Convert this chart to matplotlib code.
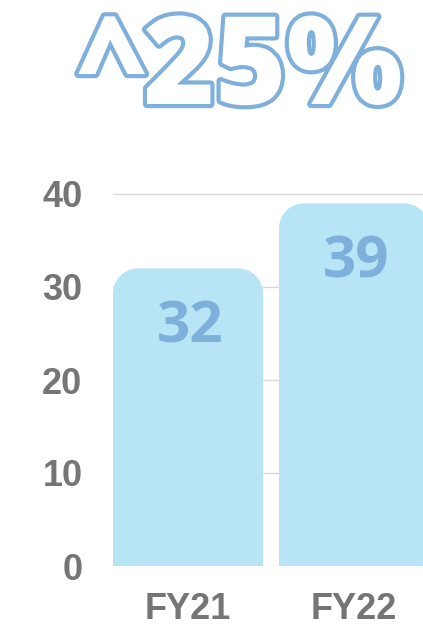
import matplotlib.pyplot as plt
import matplotlib.patheffects as pe
from matplotlib.path import Path
from matplotlib.patches import PathPatch

# data
years = ['FY21', 'FY22']
values = [32, 39]
headline = '^25%'
yticks = [0, 10, 20, 30, 40]

bar_color = '#b8e5f5'
blue = '#7fb0dc'
grey = '#757575'

fig = plt.figure(figsize=(4.23, 6.31), dpi=100)
ax = fig.add_axes([113 / 423, 1 - 566 / 631, 1 - 113 / 423, (566 - 184.7) / 631])

x = list(range(len(years)))
bars = ax.bar(x, values, width=0.904, color=bar_color)
ax.set_xlim(-0.452, 1.416)
ax.set_ylim(0, 41)


def rounded_top(x0, w, h, rx, ry):
    # rectangle with rounded top corners (bezier quarter arcs)
    k = 0.5523
    verts = [(x0, 0), (x0, h - ry),
             (x0, h - ry + k * ry), (x0 + rx - k * rx, h), (x0 + rx, h),
             (x0 + w - rx, h),
             (x0 + w - rx + k * rx, h), (x0 + w, h - ry + k * ry), (x0 + w, h - ry),
             (x0 + w, 0), (x0, 0)]
    codes = [Path.MOVETO, Path.LINETO,
             Path.CURVE4, Path.CURVE4, Path.CURVE4,
             Path.LINETO,
             Path.CURVE4, Path.CURVE4, Path.CURVE4,
             Path.LINETO, Path.CLOSEPOLY]
    return Path(verts, codes)


for b, v in zip(bars, values):
    b.set_visible(False)
    p = rounded_top(b.get_x(), b.get_width(), b.get_height(), 0.15, 2.7)
    ax.add_patch(PathPatch(p, facecolor=bar_color, edgecolor='none', zorder=2))
    ax.text(b.get_x() + b.get_width() / 2 + 0.01, v - 6.4, str(v), ha='center', va='center',
            fontsize=42, fontweight='bold', family='Open Sans', color=blue, zorder=3)

ax.set_yticks(yticks)
ax.set_xticks(x)
ax.set_xticklabels(years)
ax.grid(axis='y', color='#d9d9d9', linewidth=1, zorder=0)
ax.set_axisbelow(True)
for s in ax.spines.values():
    s.set_visible(False)
ax.tick_params(axis='y', length=0, pad=22, labelsize=26, labelcolor=grey)
ax.tick_params(axis='x', length=0, pad=19, labelsize=26, labelcolor=grey)
for lab in ax.get_xticklabels() + ax.get_yticklabels():
    lab.set_fontweight('bold')
    lab.set_family('Liberation Sans')

fig.text(241 / 423, 1 - 104 / 631, headline, ha='center', va='baseline',
         fontsize=88, fontweight='heavy', family='Open Sans', color='white',
         path_effects=[pe.withStroke(linewidth=6, foreground=blue)])

fig.savefig('out.png', dpi=100)
